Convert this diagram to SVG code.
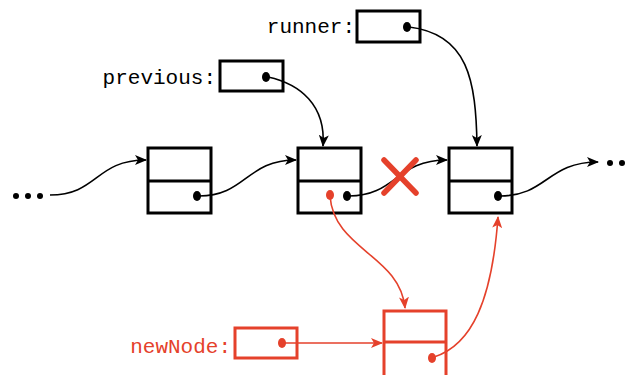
<svg xmlns="http://www.w3.org/2000/svg" width="627" height="375" viewBox="0 0 627 375">
<defs>
<marker id="ab" viewBox="0 0 12 10" refX="11" refY="5" markerWidth="12" markerHeight="10" markerUnits="userSpaceOnUse" orient="auto"><path d="M0,0 L12,5 L0,10 L3,5 z" fill="#000"/></marker>
<marker id="ar" viewBox="0 0 12 10" refX="11" refY="5" markerWidth="12" markerHeight="10" markerUnits="userSpaceOnUse" orient="auto"><path d="M0,0 L12,5 L0,10 L3,5 z" fill="#e5412b"/></marker>
</defs>
<style>
.box{fill:#fff;stroke:#000;stroke-width:3}
.rbox{fill:#fff;stroke:#e5412b;stroke-width:3}
.ln{fill:none;stroke:#000;stroke-width:1.6}
.rln{fill:none;stroke:#e5412b;stroke-width:1.6}
.lbl{font-family:"Liberation Mono",monospace;font-size:21px;text-anchor:end}
</style>
<rect width="627" height="375" fill="#fff"/>
<g id="ellipsis-left"><circle cx="16" cy="196" r="3"/><circle cx="28" cy="196" r="3"/><circle cx="40" cy="196" r="3"/></g>
<g id="ellipsis-right"><circle cx="610" cy="163" r="3"/><circle cx="622" cy="163" r="3"/></g>
<g id="node1"><rect class="box" x="148" y="148" width="63" height="65"/><line class="box" x1="148" y1="181" x2="211" y2="181"/><ellipse cx="197" cy="196" rx="4" ry="5"/></g>
<g id="node2"><rect class="box" x="298" y="148" width="63" height="65"/><line class="box" x1="298" y1="181" x2="361" y2="181"/><ellipse cx="347" cy="196" rx="4" ry="5"/><ellipse cx="330" cy="195" rx="4" ry="5" fill="#e5412b"/></g>
<g id="node3"><rect class="box" x="449" y="148" width="63" height="65"/><line class="box" x1="449" y1="181" x2="512" y2="181"/><ellipse cx="498" cy="196" rx="4" ry="5"/></g>
<g id="runner"><text class="lbl" x="355" y="33">runner:</text><rect class="box" x="357" y="11" width="63" height="31"/><ellipse cx="407" cy="27" rx="4" ry="5"/></g>
<g id="previous"><text class="lbl" x="216" y="84">previous:</text><rect class="box" x="220" y="61" width="63" height="30"/><ellipse cx="266" cy="77" rx="4" ry="5"/></g>
<g id="newNode"><text class="lbl" x="231" y="353" fill="#e5412b">newNode:</text><rect class="rbox" x="235" y="328" width="62" height="30"/><ellipse cx="282" cy="343" rx="4" ry="5" fill="#e5412b"/></g>
<g id="newnode-box"><rect class="rbox" x="384" y="311" width="62" height="80"/><line class="rbox" x1="384" y1="342" x2="446" y2="342"/><ellipse cx="432" cy="358" rx="4" ry="5" fill="#e5412b"/></g>
<g id="connectors">
<path class="ln" d="M50,195 C98,195 95,160 146,160" marker-end="url(#ab)"/>
<path class="ln" d="M199,196 C246,196 246,160 296,160" marker-end="url(#ab)"/>
<path class="ln" d="M349,196 C396,196 396,160 447,160" marker-end="url(#ab)"/>
<path class="ln" d="M500,196 C547,196 547,162 598,162" marker-end="url(#ab)"/>
<path class="ln" d="M409,27 C468,34 476,80 477,146" marker-end="url(#ab)"/>
<path class="ln" d="M268,77 C300,84 326,105 323,146" marker-end="url(#ab)"/>
<path class="rln" d="M330,196 C334,250 400,255 405,308" marker-end="url(#ar)"/>
<path class="rln" d="M434,357 C472,345 492,300 498,217" marker-end="url(#ar)"/>
<path class="rln" d="M284,343 L382,343" marker-end="url(#ar)"/>
</g>
<g id="cross" stroke="#e5412b" stroke-width="5.5" stroke-linecap="round"><line x1="384" y1="160" x2="416" y2="193"/><line x1="416" y1="160" x2="384" y2="193"/></g>
</svg>
